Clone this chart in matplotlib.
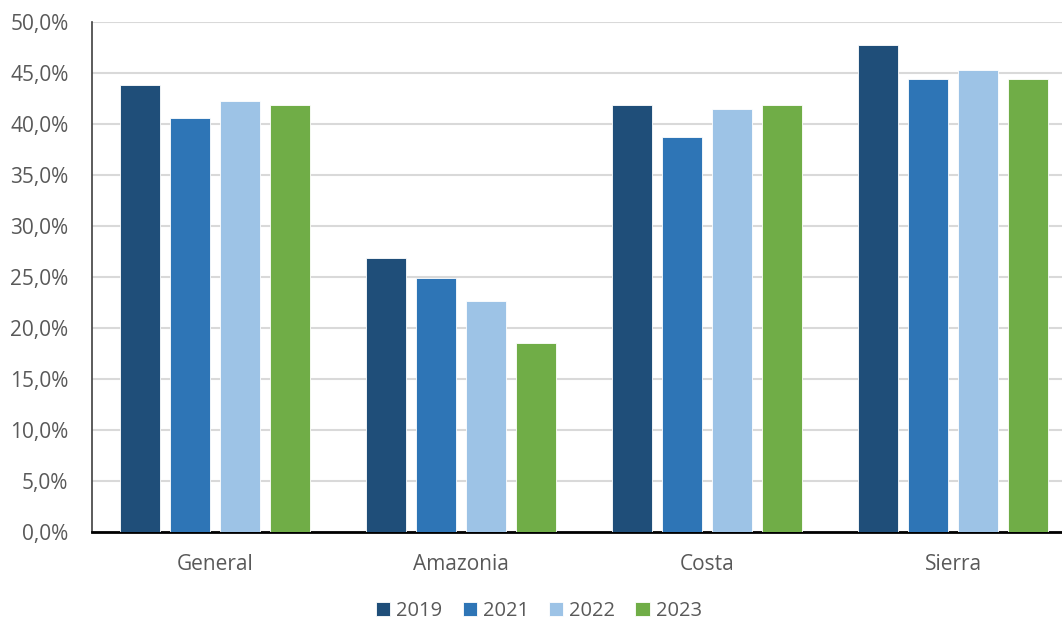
import numpy as np
import matplotlib.pyplot as plt
from matplotlib.ticker import FuncFormatter

# Data
regions = ["General", "Amazonia", "Costa", "Sierra"]
years = ["2019", "2021", "2022", "2023"]
v2019 = [43.8, 26.9, 41.9, 47.7]
v2021 = [40.6, 24.9, 38.7, 44.4]
v2022 = [42.3, 22.6, 41.5, 45.3]
v2023 = [41.9, 18.5, 41.9, 44.4]
colors = ["#1f4e79", "#2e75b6", "#9dc3e6", "#70ad47"]

plt.rcParams['font.family'] = ['Open Sans', 'DejaVu Sans']
txt = "#595959"

fig = plt.figure(figsize=(10.62, 6.2), dpi=100)
ax = fig.add_axes([92/1062, 1 - 532/620, 984/1062, 510/620])

x = np.arange(len(regions))
step = 0.203
width = 0.16
for i, (vals, yr) in enumerate(zip([v2019, v2021, v2022, v2023], years)):
    ax.bar(x + (i - 1.5) * step, vals, width, color=colors[i], label=yr,
           edgecolor="white", linewidth=0.6, zorder=3)

ax.set_xlim(-0.5, 3.5)
ax.set_ylim(0, 50)
ax.set_yticks(np.arange(0, 51, 5))
ax.yaxis.set_major_formatter(FuncFormatter(lambda v, p: "{:.1f}%".format(v).replace(".", ",")))
ax.set_xticks(x)
ax.set_xticklabels(regions)
ax.grid(axis="y", color="#d9d9d9", linewidth=1.5, zorder=0)
ax.tick_params(axis="both", length=0, labelsize=15, labelcolor=txt)
ax.tick_params(axis="x", pad=16)
ax.tick_params(axis="y", pad=17)
for s in ["top", "right"]:
    ax.spines[s].set_visible(False)
ax.spines["left"].set_color("#404040")
ax.spines["left"].set_linewidth(1.2)
ax.spines["bottom"].set_color("black")
ax.spines["bottom"].set_linewidth(2)

leg = fig.legend(loc="center", bbox_to_anchor=(539/1062, 1 - 611/620), ncol=4,
                 frameon=False, fontsize=14.5, handlelength=0.7, handleheight=0.7,
                 handletextpad=0.3, columnspacing=1.0)
for t in leg.get_texts():
    t.set_color(txt)

fig.savefig("out.png", dpi=100)
